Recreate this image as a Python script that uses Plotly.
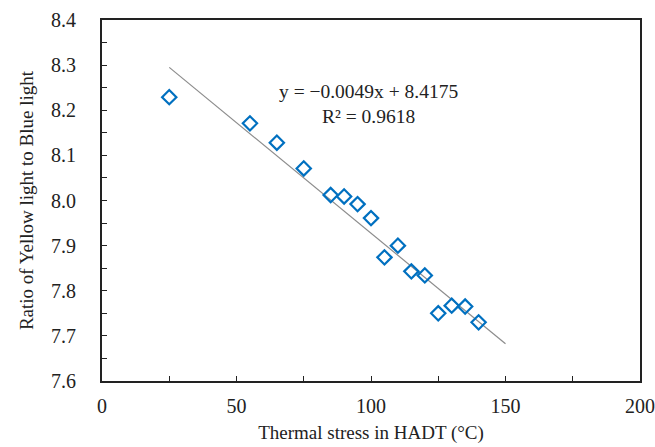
import plotly.graph_objects as go

temps = [25, 55, 65, 75, 85, 90, 95, 100, 105, 110, 115, 120, 125, 130, 135, 140]
ratios = [8.229, 8.171, 8.128, 8.071, 8.012, 8.009, 7.992, 7.961, 7.874, 7.900,
          7.843, 7.834, 7.750, 7.767, 7.765, 7.730]
slope = -0.0049
intercept = 8.4175
r2 = 0.9618
trend_x = [25, 150]
trend_y = [slope * x + intercept for x in trend_x]

font_family = "Liberation Serif, Times New Roman, serif"

fig = go.Figure()
fig.add_trace(go.Scatter(x=trend_x, y=trend_y, mode="lines",
                         line=dict(color="#8c8c8c", width=1.2), showlegend=False))
fig.add_trace(go.Scatter(x=temps, y=ratios, mode="markers",
                         marker=dict(symbol="diamond-open", size=11, color="#0070C0",
                                     line=dict(width=2.2, color="#0070C0")),
                         showlegend=False))

fig.add_annotation(x=99, y=8.213, xref="x", yref="y",
                   text=f"y = \u22120.0049x + {intercept}<br>R\u00b2 = {r2}",
                   showarrow=False, align="center",
                   font=dict(family=font_family, size=19.5, color="#222"))

fig.update_layout(
    width=655, height=447,
    margin=dict(l=102, r=15, t=20, b=66),
    paper_bgcolor="white", plot_bgcolor="white",
    font=dict(family=font_family, size=19, color="#222"),
    xaxis=dict(range=[0, 200], tickvals=[0, 50, 100, 150, 200], ticks="inside", ticklen=5,
               tickcolor="#222", showline=True, linecolor="#222", linewidth=2, mirror=True,
               showgrid=False, zeroline=False, ticklabelstandoff=6, automargin=False,
               minor=dict(ticks="inside", dtick=25, ticklen=5, tickcolor="#222"),
               title=dict(text="Thermal stress in HADT (\u00b0C)", standoff=10,
                          font=dict(size=19)),
               tickfont=dict(size=20)),
    yaxis=dict(range=[7.6, 8.4], dtick=0.1, tickformat=".1f", ticks="inside", ticklen=5,
               tickcolor="#222", showline=True, linecolor="#222", linewidth=2, mirror=True,
               showgrid=False, zeroline=False, ticklabelstandoff=20, automargin=False,
               minor=dict(ticks="inside", dtick=0.05, ticklen=5, tickcolor="#222"),
               title=dict(text="Ratio of Yellow light to Blue light", standoff=12,
                          font=dict(size=19)),
               tickfont=dict(size=20)),
)

fig.write_html("out.html", config={"displayModeBar": False},
               post_script="document.body.style.margin='0';document.body.style.overflow='hidden';")
